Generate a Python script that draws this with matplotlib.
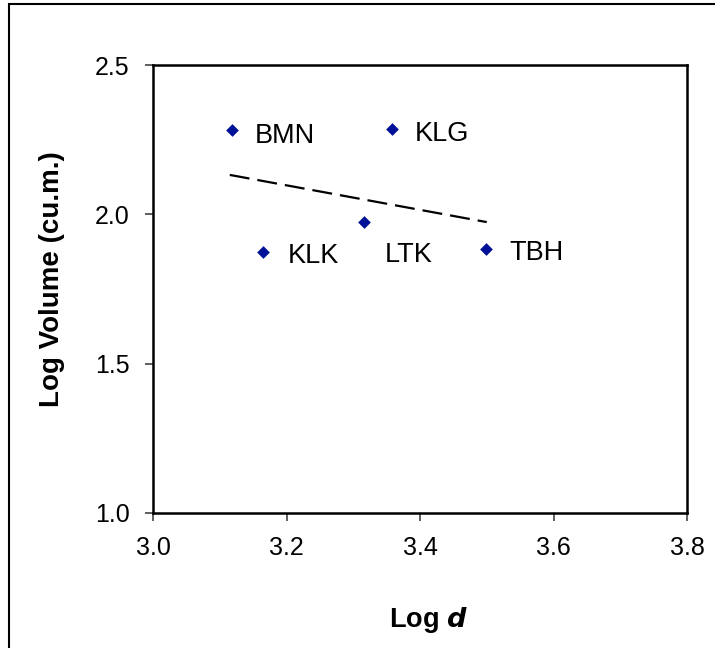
import matplotlib
matplotlib.use("Agg")
import matplotlib.pyplot as plt
from matplotlib.patches import Rectangle

plt.rcParams['font.family'] = ['Liberation Sans', 'DejaVu Sans']

sites = ["BMN", "KLG", "KLK", "LTK", "TBH"]
log_d = [3.118, 3.358, 3.165, 3.316, 3.499]
log_vol = [2.282, 2.286, 1.874, 1.974, 1.884]
trend_x = [3.115, 3.500]
trend_y = [2.132, 1.974]
# label offsets in pixels (dx right, dy of baseline below point)
label_dx = [23, 23, 25, 21, 23]
label_dy = [13, 12, 11, 40, 11]

W, H = 715, 648
PT = 72 / 100  # points per pixel
fig = plt.figure(figsize=(W / 100, H / 100), dpi=100)
fig.patches.append(Rectangle((8.5 / W, -0.1), 1.2, 1.1 - 4.5 / H,
                             transform=fig.transFigure, fill=False,
                             edgecolor='black', linewidth=1.5))

left, right, top, bottom = 153, 687, 65, 513
ax = fig.add_axes([left / W, 1 - bottom / H, (right - left) / W, (bottom - top) / H])

ax.plot(trend_x, trend_y, color='black', linestyle=(0, (9, 3.6)), linewidth=1.6)
ax.scatter(log_d, log_vol, marker='D', s=42, color='#001199', zorder=3, linewidths=0)

for name, x, y, dx, dy in zip(sites, log_d, log_vol, label_dx, label_dy):
    ax.annotate(name, (x, y), xytext=(dx * PT, -dy * PT), textcoords='offset points',
                ha='left', va='baseline', fontsize=19.5, color='black')

ax.set_xlim(3.0, 3.8)
ax.set_ylim(1.0, 2.5)
ax.set_xticks([3.0, 3.2, 3.4, 3.6, 3.8])
ax.set_xticklabels(["3.0", "3.2", "3.4", "3.6", "3.8"])
ax.set_yticks([1.0, 1.5, 2.0, 2.5])
ax.set_yticklabels(["1.0", "1.5", "2.0", "2.5"])
ax.tick_params(direction='out', length=5.8, width=1.1, color='#333333', labelsize=18, pad=11)
for s in ax.spines.values():
    s.set_linewidth(1.8)

ax.set_xlabel(r"Log $\boldsymbol{d}$", fontsize=19.5, fontweight='bold')
ax.set_ylabel("Log Volume (cu.m.)", fontsize=20, fontweight='bold')
ax.xaxis.set_label_coords(0.515, -0.206)
ax.yaxis.set_label_coords(-0.164, 0.522)

fig.savefig("out.png", dpi=100)
